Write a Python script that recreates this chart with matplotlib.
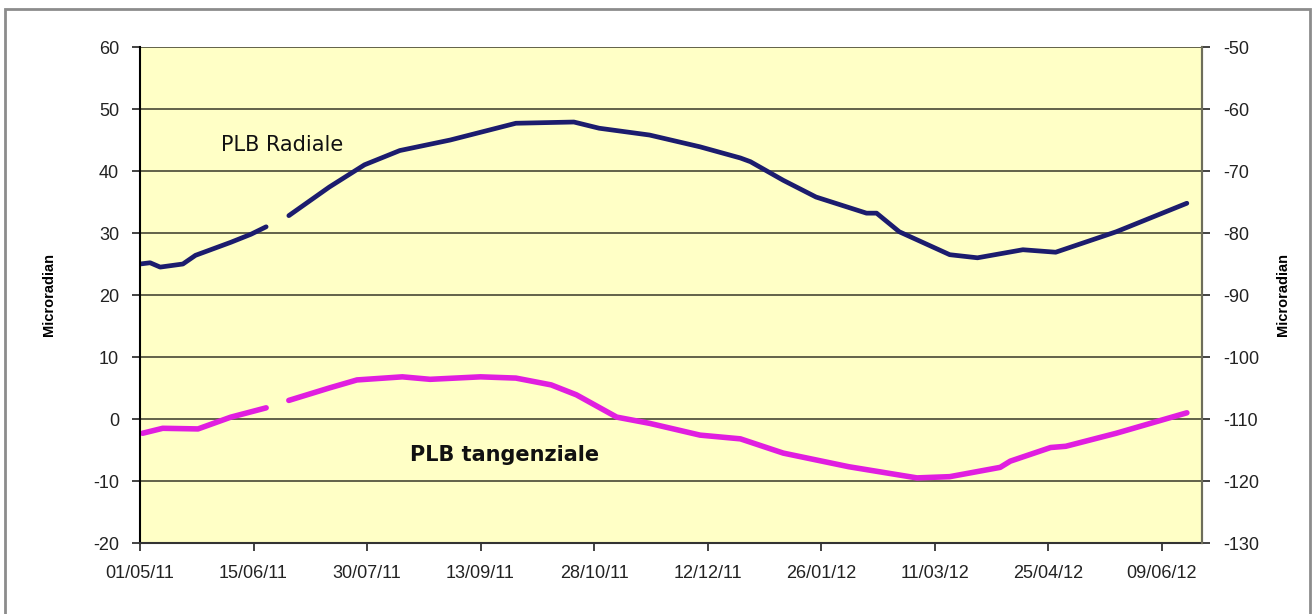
import datetime as dt
import matplotlib
matplotlib.use("Agg")
import matplotlib.pyplot as plt
import matplotlib.dates as mdates
from matplotlib.patches import Rectangle

# Data (day offsets from 01/05/11, values in microradian)
start = dt.date(2011, 5, 1)
nan = float("nan")

days_rad = [0, 4, 8, 17, 22, 36, 44, 50, 54, 59, 75, 89, 103, 123, 149, 172, 182,
            202, 222, 238, 242, 255, 268, 288, 292, 301, 321, 332, 350, 363, 387, 415]
val_rad = [25.0, 25.2, 24.5, 25.0, 26.4, 28.5, 29.8, 31.0, nan, 32.8, 37.4, 41.0,
           43.3, 45.0, 47.7, 47.9, 46.9, 45.8, 43.9, 42.1, 41.5, 38.5, 35.8, 33.2,
           33.2, 30.2, 26.5, 26.0, 27.3, 26.9, 30.2, 34.8]

days_tan = [1, 9, 23, 36, 50, 54, 59, 75, 86, 104, 115, 135, 149, 163, 173, 189,
            202, 222, 238, 255, 281, 308, 321, 341, 345, 361, 367, 387, 415]
val_tan = [-2.3, -1.5, -1.6, 0.3, 1.8, nan, 3.0, 5.0, 6.3, 6.8, 6.4, 6.8, 6.6, 5.5,
           3.9, 0.3, -0.7, -2.6, -3.2, -5.5, -7.7, -9.5, -9.3, -7.8, -6.8, -4.6,
           -4.4, -2.3, 1.0]

left_ticks = list(range(-20, 61, 10))
right_ticks = list(range(-130, -49, 10))
tick_step = 45

to_date = lambda d: start + dt.timedelta(days=d)
x_rad = [to_date(d) for d in days_rad]
x_tan = [to_date(d) for d in days_tan]

plt.rcParams['font.family'] = ['Liberation Sans', 'DejaVu Sans']
plt.rcParams['axes.unicode_minus'] = False

fig = plt.figure(figsize=(13.15, 6.14), dpi=100)
fig.patch.set_facecolor('white')
fig.patches.append(Rectangle((5 / 1315, -0.02), 1305 / 1315, 1 - 9 / 614 + 0.02,
                             transform=fig.transFigure, fill=False,
                             edgecolor='#8c8c8c', linewidth=2))

ax = fig.add_axes([140 / 1315, 71 / 614, 1062 / 1315, 496 / 614])
ax.set_facecolor('#ffffc6')

ax.plot(x_rad, val_rad, color='#1c1c6e', linewidth=3.4, solid_capstyle='round')
ax.plot(x_tan, val_tan, color='#e01ee0', linewidth=4.0, solid_capstyle='round')

ax.set_ylim(-20, 60)
ax.set_yticks(left_ticks)
ax.set_xlim(to_date(0), to_date(421))
ax.set_xticks([to_date(i * tick_step) for i in range(10)])
ax.xaxis.set_major_formatter(mdates.DateFormatter('%d/%m/%y'))

ax.grid(axis='y', color='#55553f', linewidth=1.3)
ax.set_axisbelow(True)
ax.spines['top'].set_visible(False)
ax.spines['left'].set_color('black')
ax.spines['left'].set_linewidth(1.5)
ax.spines['bottom'].set_color('#333333')
ax.spines['bottom'].set_linewidth(1.5)
ax.spines['right'].set_color('#6e6e5a')
ax.spines['right'].set_linewidth(1.5)

ax.tick_params(axis='both', direction='out', length=6, width=1.2, colors='#222222',
               labelsize=13, pad=9)
ax.tick_params(axis='x', pad=10)
ax.set_ylabel('Microradian', fontsize=10.5, fontweight='bold', labelpad=27)

ax2 = ax.twinx()
ax2.set_ylim(-130, -50)
ax2.set_yticks(right_ticks)
ax2.tick_params(axis='y', direction='out', length=6, width=1.2, colors='#222222',
                labelsize=13, pad=9)
for s in ['top', 'left', 'bottom']:
    ax2.spines[s].set_visible(False)
ax2.spines['right'].set_color('#6e6e5a')
ax2.spines['right'].set_linewidth(1.5)
ax2.set_ylabel('Microradian', fontsize=10.5, fontweight='bold', labelpad=12)

ax.text(to_date(32), 44.2, 'PLB Radiale', fontsize=15, color='#111111',
        va='center', ha='left', family='DejaVu Sans')
ax.text(to_date(107), -5.8, 'PLB tangenziale', fontsize=15, color='#111111',
        va='center', ha='left', fontweight='bold', family='DejaVu Sans')

fig.savefig('out.png', dpi=100)
